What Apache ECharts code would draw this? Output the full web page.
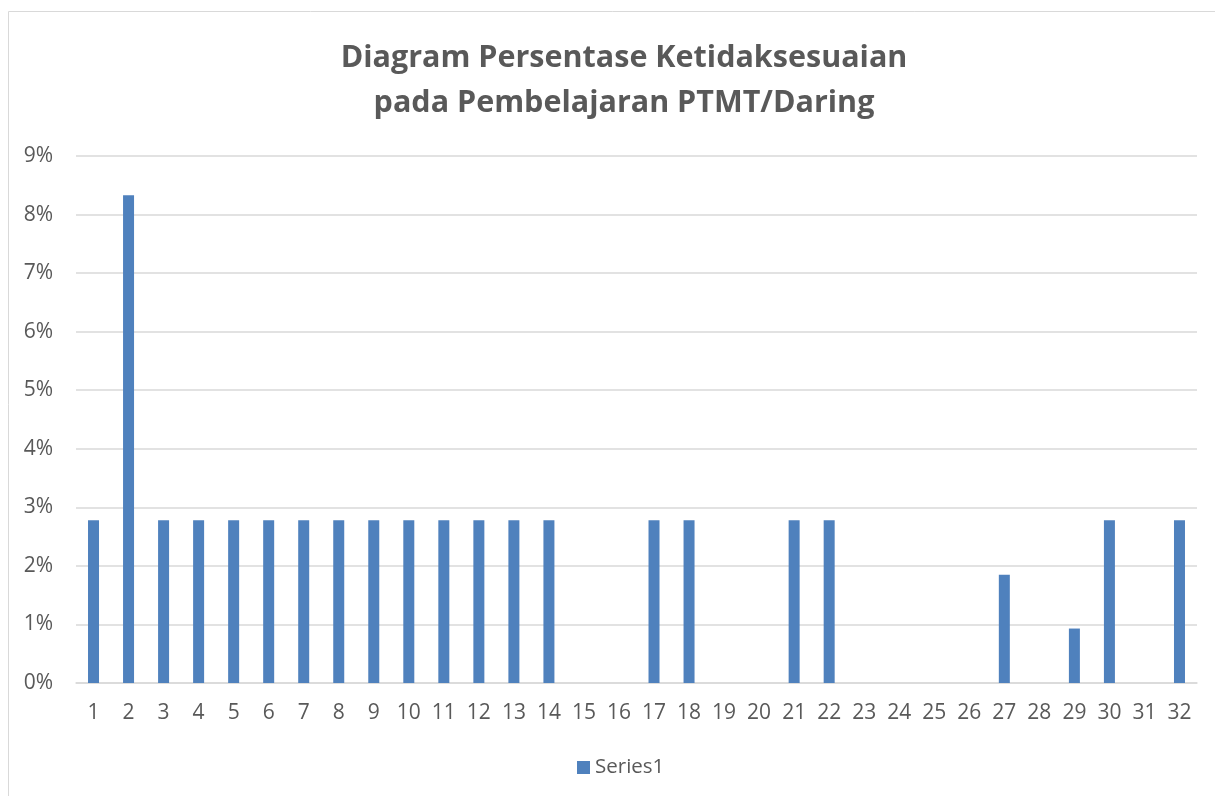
<!DOCTYPE html>
<html><head><meta charset="utf-8">
<script src="https://cdn.jsdelivr.net/npm/echarts@6/dist/echarts.min.js"></script>
<style>html,body{margin:0;padding:0;background:#fff}#c{width:1215px;height:796px}</style>
</head><body><div id="c"></div>
<script>
const categories = ['1','2','3','4','5','6','7','8','9','10','11','12','13','14','15','16','17','18','19','20','21','22','23','24','25','26','27','28','29','30','31','32'];
const series1 = [2.78,8.33,2.78,2.78,2.78,2.78,2.78,2.78,2.78,2.78,2.78,2.78,2.78,2.78,0,0,2.78,2.78,0,0,2.78,2.78,0,0,0,0,1.85,0,0.93,2.78,0,2.78];
const titleText = 'Diagram Persentase Ketidaksesuaian\npada Pembelajaran PTMT/Daring';
const font = 'Open Sans';
const chart = echarts.init(document.getElementById('c'));
chart.setOption({
  animation: false,
  graphic: [{type:'rect', shape:{x:8.5,y:11.5,width:1400,height:1000}, style:{fill:'none', stroke:'#d9d9d9', lineWidth:1}, silent:true}],
  title: {text: titleText, left: 619, textAlign: 'center', top: 31, textStyle:{fontFamily:font, fontSize:30.5, fontWeight:'bold', color:'#595959', lineHeight:45}},
  grid: {left: 76, right: 18, top: 156, bottom: 113},
  legend: {bottom: 13, left: 572, itemWidth: 13, itemHeight: 13, itemGap: 6, icon: 'rect', textStyle:{fontFamily:font, fontSize:20.5, color:'#595959'}, data:['Series1']},
  xAxis: {type:'category', data: categories, axisTick:{show:false}, axisLine:{lineStyle:{color:'#d9d9d9', width:1.5}},
    axisLabel:{fontFamily:font, fontSize:21, color:'#595959', margin:20, interval:0}},
  yAxis: {type:'value', min:0, max:9, interval:1, axisLine:{show:false}, axisTick:{show:false},
    splitLine:{lineStyle:{color:'#d9d9d9', width:1.5}},
    axisLabel:{fontFamily:font, fontSize:21, color:'#595959', margin:23, formatter:'{value}%'}},
  series: [{name:'Series1', type:'bar', data: series1, barWidth: 11, itemStyle:{color:'#4f81bd'}}]
});
</script></body></html>
